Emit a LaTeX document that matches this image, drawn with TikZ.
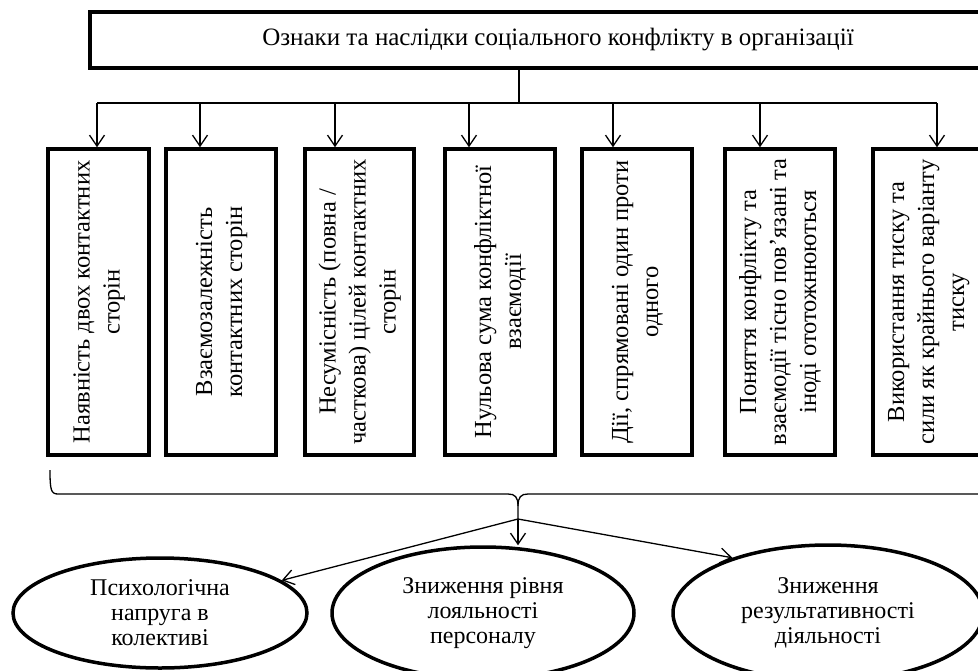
\documentclass[tikz,border=0pt]{standalone}
\usepackage{fontspec}
\setmainfont{Liberation Serif}
\usetikzlibrary{arrows.meta,shapes.geometric}
\newcommand\vlines[1]{\rotatebox{90}{\begin{tabular}{@{}c@{}}#1\end{tabular}}}
\begin{document}
\begin{tikzpicture}[x=1pt,y=-1pt,
  thinl/.style={line width=1.3pt},
  arr/.style={line width=1.3pt,-{Straight Barb[length=11pt,width=15pt,line width=1.3pt]}},
  vbox/.style={draw,line width=3.5pt,minimum height=306pt,inner sep=0pt,
    font=\fontsize{24.5}{30}\selectfont},
  topbox/.style={draw,line width=3.3pt,minimum width=936pt,minimum height=56pt,inner sep=0pt,
    font=\fontsize{25}{28}\selectfont},
  ell/.style={draw,ellipse,line width=3.5pt,inner sep=0pt,align=center,
    font=\fontsize{24}{25}\selectfont}]
\useasboundingbox (0,0) rectangle (978,670);
\clip (0,0) rectangle (978,670);

% top box
\node[topbox] (top) at (558,40) {Ознаки та наслідки соціального конфлікту в організації};

% vertical boxes
\node[vbox,minimum width=101pt] (b1) at (98.5,302) {\vlines{Наявність двох контактних\\сторін}};
\node[vbox,minimum width=110pt] (b2) at (221,302) {\vlines{Взаємозалежність\\контактних сторін}};
\node[vbox,minimum width=109pt] (b3) at (359.5,302) {\vlines{Несумісність (повна /\\часткова) цілей контактних\\сторін}};
\node[vbox,minimum width=110pt] (b4) at (500,302) {\vlines{Нульова сума конфліктної\\взаємодії}};
\node[vbox,minimum width=110pt] (b5) at (637,302) {\vlines{Дії, спрямовані один проти\\одного}};
\node[vbox,minimum width=110pt] (b6) at (780,302) {\vlines{Поняття конфлікту та\\взаємодії тісно пов’язані та\\іноді ототожнюються}};
\node[vbox,minimum width=110pt] (b7) at (928,302) {\vlines{Використання тиску та\\сили як крайнього варіанту\\тиску}};

% distribution lines
\coordinate (tv) at (519,103);
\coordinate (h1) at (97,103);
\coordinate (h2) at (200,103);
\coordinate (h3) at (335,103);
\coordinate (h4) at (469,103);
\coordinate (h5) at (613,103);
\coordinate (h6) at (760,103);
\coordinate (h7) at (937,103);
\draw[thinl] (tv |- top.south) -- (tv);
\draw[thinl] (h1) -- (h7);
\draw[arr] (h1) -- (h1 |- b1.north);
\draw[arr] (h2) -- (h2 |- b2.north);
\draw[arr] (h3) -- (h3 |- b3.north);
\draw[arr] (h4) -- (h4 |- b4.north);
\draw[arr] (h5) -- (h5 |- b5.north);
\draw[arr] (h6) -- (h6 |- b6.north);
\draw[arr] (h7) -- (h7 |- b7.north);

% brace
\coordinate (bp) at (518,519);
\draw[thinl] (50,470) .. controls (50,490) and (51,494) .. (58,494) -- (508,494)
  .. controls (515,494) and (518,497) .. (518,506) -- (bp);
\draw[thinl] (986,470) .. controls (986,490) and (985,494) .. (978,494) -- (528,494)
  .. controls (521,494) and (518,497) .. (518,506);

% ellipses
\node[ell,minimum width=294pt,minimum height=110pt] (e1) at (160,613) {Психологічна\\напруга в\\колективі};
\node[ell,minimum width=302pt,minimum height=132pt] (e2) at (483,613) {Зниження рівня\\лояльності\\персоналу};
\node[ell,minimum width=310pt,minimum height=136pt] (e3) at (828,613) {Зниження\\результативності\\діяльності};

\draw[arr] (bp) -- (e1.15);
\draw[arr] (bp) -- (bp |- e2.north);
\draw[arr] (bp) -- (e3.150);
\end{tikzpicture}
\end{document}
